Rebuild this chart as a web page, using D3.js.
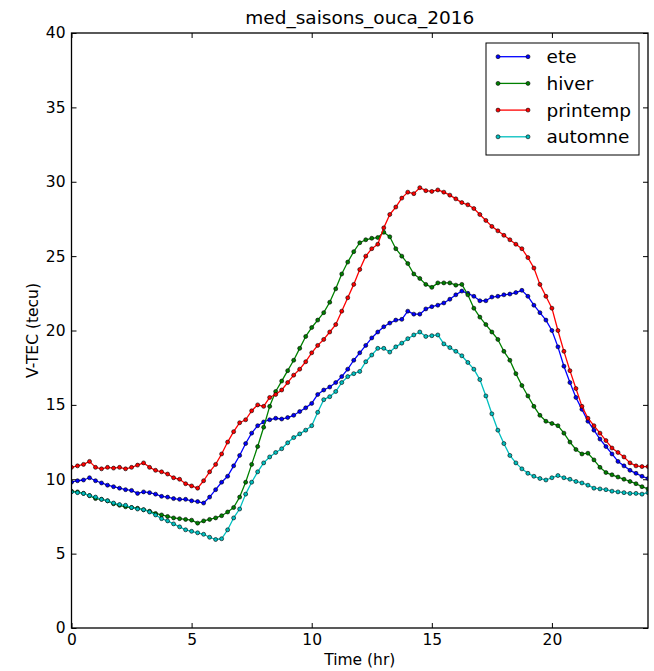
<!DOCTYPE html>
<html>
<head>
<meta charset="utf-8">
<script src="https://cdn.jsdelivr.net/npm/d3@7"></script>
<style>
  html, body { margin: 0; padding: 0; background: #fff; }
  svg { display: block; font-family: "DejaVu Sans", sans-serif; }
</style>
</head>
<body>
<svg id="chart" width="654" height="671"></svg>
<script>
// Sample times (hours), one every 15 minutes
const hours = [
  0, 0.25, 0.5, 0.75, 1, 1.25, 1.5, 1.75, 2, 2.25, 2.5, 2.75,
  3, 3.25, 3.5, 3.75, 4, 4.25, 4.5, 4.75, 5, 5.25, 5.5, 5.75,
  6, 6.25, 6.5, 6.75, 7, 7.25, 7.5, 7.75, 8, 8.25, 8.5, 8.75,
  9, 9.25, 9.5, 9.75, 10, 10.25, 10.5, 10.75, 11, 11.25, 11.5, 11.75,
  12, 12.25, 12.5, 12.75, 13, 13.25, 13.5, 13.75, 14, 14.25, 14.5, 14.75,
  15, 15.25, 15.5, 15.75, 16, 16.25, 16.5, 16.75, 17, 17.25, 17.5, 17.75,
  18, 18.25, 18.5, 18.75, 19, 19.25, 19.5, 19.75, 20, 20.25, 20.5, 20.75,
  21, 21.25, 21.5, 21.75, 22, 22.25, 22.5, 22.75, 23, 23.25, 23.5, 23.75,
  24
];

// Median vertical TEC (TECU) per season
const ete = [
  9.8, 9.9, 9.95, 10.1,   9.9, 9.75, 9.6, 9.5,   9.4, 9.3, 9.25, 9.05,
  9.15, 9.1, 9.0, 8.85,   8.8, 8.7, 8.65, 8.65,  8.55, 8.5, 8.4, 8.8,
  9.3, 9.8, 10.2, 10.9,   11.6, 12.4, 13.1, 13.6, 13.85, 14.0, 14.1, 14.05,
  14.15, 14.3, 14.55, 14.8, 15.1, 15.7, 16.0, 16.2, 16.5, 16.9, 17.4, 18.0,
  18.5, 19.0, 19.5, 19.9, 20.25, 20.5, 20.7, 20.75, 21.3, 21.1, 21.1, 21.45,
  21.6, 21.7, 21.85, 22.1, 22.4, 22.65, 22.5, 22.3, 22.0, 22.0, 22.25, 22.3,
  22.4, 22.45, 22.55, 22.7, 22.3, 21.7, 21.2, 20.7, 20.0, 18.9, 17.6, 16.5,
  15.5, 14.7, 13.9, 13.3, 12.7, 12.2, 11.7, 11.2, 10.9, 10.6, 10.4, 10.2,
  10.05
];
const hiver = [
  9.2, 9.15, 9.05, 8.9,   8.7, 8.65, 8.55, 8.35,  8.25, 8.15, 8.1, 8.05,
  7.95, 7.85, 7.7, 7.6,   7.5, 7.4, 7.35, 7.3,    7.25, 7.05, 7.2, 7.3,
  7.4, 7.55, 7.8, 8.1,    8.8, 9.8, 11.0, 12.2,   13.5, 14.9, 15.9, 16.6,
  17.3, 18.0, 18.8, 19.6, 20.2, 20.7, 21.2, 21.9, 22.8, 23.8, 24.6, 25.3,
  25.9, 26.1, 26.2, 26.25, 26.6, 26.3, 25.5, 25.0, 24.5, 23.8, 23.5, 23.1,
  22.9, 23.2, 23.2, 23.2, 23.05, 23.1, 22.4, 21.5, 20.9, 20.4, 19.9, 19.4,
  18.6, 18.0, 17.1, 16.3, 15.6, 14.9, 14.3, 13.9, 13.75, 13.6, 13.1, 12.5,
  12.0, 11.7, 11.75, 11.3, 10.8, 10.45, 10.3, 10.15, 10.0, 9.85, 9.7, 9.5,
  9.35
];
const printemp = [
  10.8, 10.9, 11.0, 11.2,  10.8, 10.7, 10.8, 10.75, 10.8, 10.7, 10.8, 10.95,
  11.1, 10.8, 10.6, 10.5,  10.35, 10.1, 10.0, 9.7,  9.55, 9.4, 9.9, 10.5,
  11.0, 11.7, 12.5, 13.2,  13.8, 14.0, 14.6, 15.0,  14.9, 15.5, 15.7, 16.0,
  16.5, 17.0, 17.4, 17.9,  18.5, 19.0, 19.4, 19.9,  20.4, 21.3, 22.2, 23.1,
  24.1, 25.0, 25.5, 25.8,  26.9, 27.8, 28.3, 28.9,  29.3, 29.2, 29.6, 29.4,
  29.35, 29.45, 29.3, 29.1, 28.85, 28.6, 28.45, 28.2, 27.8, 27.4, 27.0, 26.7,
  26.4, 26.1, 25.8, 25.5,  24.9, 24.2, 23.1, 22.3,  21.5, 20.0, 18.6, 17.3,
  16.1, 14.9, 14.1, 13.6,  13.1, 12.6, 12.1, 11.8,  11.5, 11.1, 10.9, 10.85,
  10.85
];
const automne = [
  9.15, 9.1, 9.05, 8.9,   8.8, 8.65, 8.55, 8.4,   8.3, 8.25, 8.1, 8.0,
  7.95, 7.8, 7.6, 7.35,   7.2, 7.0, 6.8, 6.6,     6.5, 6.4, 6.3, 6.1,
  5.95, 6.0, 6.6, 7.4,    8.0, 9.0, 9.8, 10.5,    11.1, 11.5, 11.8, 12.05,
  12.45, 12.8, 13.05, 13.3, 13.6, 14.5, 15.35, 15.55, 15.9, 16.5, 16.9, 17.1,
  17.25, 17.9, 18.35, 18.8, 18.8, 18.55, 18.9, 19.15, 19.45, 19.7, 19.9, 19.6,
  19.65, 19.7, 19.1, 18.85, 18.6, 18.3, 17.85, 17.4, 16.7, 15.6, 14.4, 13.3,
  12.4, 11.6, 11.1, 10.7, 10.4, 10.2, 10.05, 9.95, 10.1, 10.25, 10.1, 10.0,
  9.85, 9.75, 9.6, 9.4,   9.35, 9.3, 9.2, 9.15,   9.1, 9.05, 9.05, 9.0,
  9.1
];

const seriesNames = ["ete", "hiver", "printemp", "automne"];
const seriesValues = [ete, hiver, printemp, automne];
const seriesColors = ["#0000ff", "#008000", "#ff0000", "#00bfbf"];

const xTicks = [0, 5, 10, 15, 20];
const yTicks = [0, 5, 10, 15, 20, 25, 30, 35, 40];

const chartTitle = "med_saisons_ouca_2016";
const xLabel = "Time (hr)";
const yLabel = "V-TEC (tecu)";

// Layout
const W = 654, H = 671;
const plot = { left: 71.5, right: 648, top: 33, bottom: 628 };

const svg = d3.select("#chart");

const x = d3.scaleLinear().domain([0, 24]).range([plot.left, plot.right]);
const y = d3.scaleLinear().domain([0, 40]).range([plot.bottom, plot.top]);

const tickFont = "15.5px";
const tick = 5;

// Axes: ticks point inward on all four sides
const gx = svg.append("g")
  .attr("transform", `translate(0,${plot.bottom})`)
  .call(d3.axisBottom(x).tickValues(xTicks).tickSizeInner(-tick).tickSizeOuter(0).tickPadding(6));
const gxTop = svg.append("g")
  .attr("transform", `translate(0,${plot.top})`)
  .call(d3.axisTop(x).tickValues(xTicks).tickSizeInner(-tick).tickSizeOuter(0).tickFormat(""));
const gy = svg.append("g")
  .attr("transform", `translate(${plot.left},0)`)
  .call(d3.axisLeft(y).tickValues(yTicks).tickSizeInner(-tick).tickSizeOuter(0).tickPadding(6));
const gyRight = svg.append("g")
  .attr("transform", `translate(${plot.right},0)`)
  .call(d3.axisRight(y).tickValues(yTicks).tickSizeInner(-tick).tickSizeOuter(0).tickFormat(""));

[gx, gxTop, gy, gyRight].forEach(g => {
  g.select(".domain").remove();
  g.selectAll(".tick line").attr("stroke", "#000").attr("stroke-width", 1);
  g.selectAll(".tick text")
    .attr("fill", "#000")
    .style("font-size", tickFont)
    .style("font-family", "'DejaVu Sans', sans-serif");
});

// Series lines with point markers
const line = d3.line()
  .x((d, i) => x(hours[i]))
  .y(d => y(d));

const clip = svg.append("defs").append("clipPath").attr("id", "plot-clip")
  .append("rect")
  .attr("x", plot.left).attr("y", plot.top)
  .attr("width", plot.right - plot.left).attr("height", plot.bottom - plot.top);

const seriesG = svg.append("g").attr("clip-path", "url(#plot-clip)");

seriesValues.forEach((vals, k) => {
  const g = seriesG.append("g").attr("class", "series-" + seriesNames[k]);
  g.append("path")
    .datum(vals)
    .attr("fill", "none")
    .attr("stroke", seriesColors[k])
    .attr("stroke-width", 1.3)
    .attr("stroke-linejoin", "round")
    .attr("d", line);
  g.selectAll("circle")
    .data(vals)
    .join("circle")
    .attr("cx", (d, i) => x(hours[i]))
    .attr("cy", d => y(d))
    .attr("r", 2)
    .attr("fill", seriesColors[k])
    .attr("stroke", "#000")
    .attr("stroke-opacity", 0.75)
    .attr("stroke-width", 0.8);
});

// Plot frame
svg.append("rect")
  .attr("x", plot.left).attr("y", plot.top)
  .attr("width", plot.right - plot.left).attr("height", plot.bottom - plot.top)
  .attr("fill", "none")
  .attr("stroke", "#000")
  .attr("stroke-width", 1.3);

// Title and axis labels
svg.append("text")
  .attr("x", (plot.left + plot.right) / 2)
  .attr("y", 24)
  .attr("text-anchor", "middle")
  .style("font-size", "18.5px")
  .text(chartTitle);

svg.append("text")
  .attr("x", (plot.left + plot.right) / 2)
  .attr("y", 665)
  .attr("text-anchor", "middle")
  .style("font-size", "15.5px")
  .text(xLabel);

svg.append("text")
  .attr("transform", `translate(38,${(plot.top + plot.bottom) / 2}) rotate(-90)`)
  .attr("text-anchor", "middle")
  .style("font-size", "15.5px")
  .text(yLabel);

// Legend
const legend = { x: 486, y: 43, w: 153, h: 112, rowH: 26.7, firstRow: 56.7 };
const lg = svg.append("g");
lg.append("rect")
  .attr("x", legend.x).attr("y", legend.y)
  .attr("width", legend.w).attr("height", legend.h)
  .attr("fill", "#fff")
  .attr("stroke", "#000")
  .attr("stroke-width", 1);

seriesNames.forEach((name, k) => {
  const cy = legend.firstRow + k * legend.rowH;
  lg.append("line")
    .attr("x1", 498).attr("x2", 528)
    .attr("y1", cy).attr("y2", cy)
    .attr("stroke", seriesColors[k])
    .attr("stroke-width", 1.3);
  [498, 528].forEach(px => {
    lg.append("circle")
      .attr("cx", px).attr("cy", cy).attr("r", 2)
      .attr("fill", seriesColors[k])
      .attr("stroke", "#000")
      .attr("stroke-opacity", 0.75)
      .attr("stroke-width", 0.8);
  });
  lg.append("text")
    .attr("x", 546.5)
    .attr("y", cy)
    .attr("dy", "0.35em")
    .style("font-size", "18.5px")
    .text(name);
});
</script>
</body>
</html>
